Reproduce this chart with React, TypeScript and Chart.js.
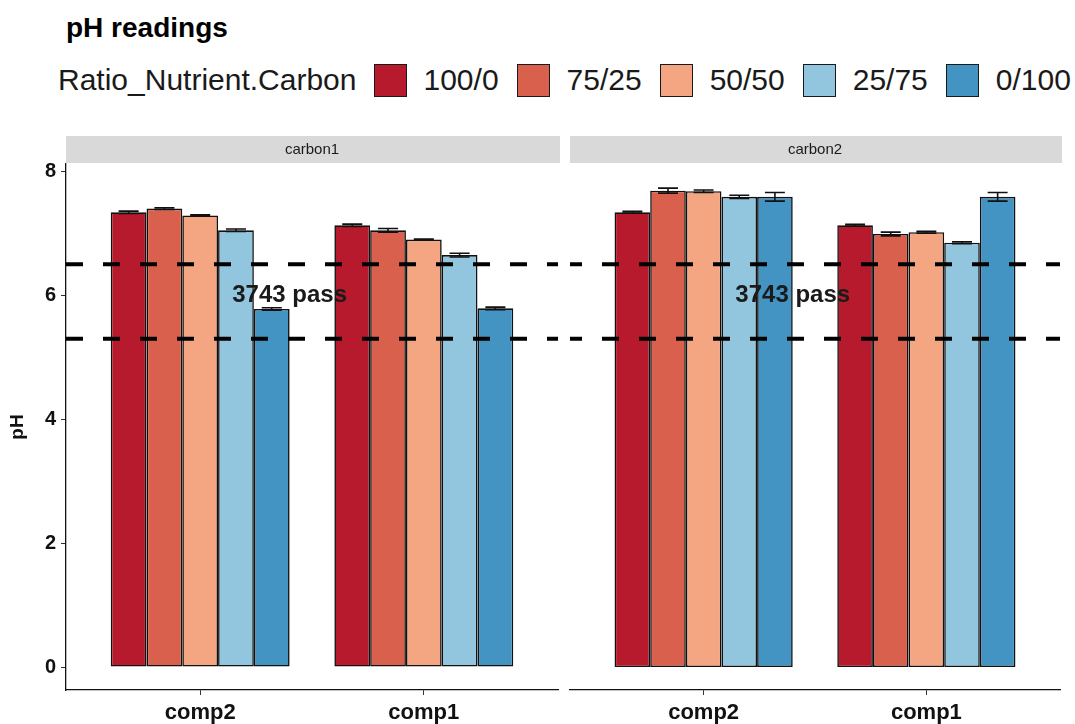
import React, { useEffect, useRef } from 'react';
import { Chart, registerables } from 'chart.js';

Chart.register(...registerables);

// ---------- data ----------
const chartTitle = 'pH readings';
const legendTitle = 'Ratio_Nutrient.Carbon';
const categories = ['comp2', 'comp1'];
const ratios = ['100/0', '75/25', '50/50', '25/75', '0/100'];
const ratioColors = ['#B71A2C', '#D9604C', '#F4A582', '#92C5DE', '#4393C3'];
const facets = ['carbon1', 'carbon2'];
const yTicks = [0, 2, 4, 6, 8];
const thresholds = [6.5, 5.3];
const annotationText = '3743 pass';
const annotationX = 1.4;
const annotationY = 6.0;

// carbon1 values per ratio: [comp2, comp1]
const carbon1_100_0 = [7.34, 7.13];
const carbon1_75_25 = [7.4, 7.05];
const carbon1_50_50 = [7.29, 6.9];
const carbon1_25_75 = [7.05, 6.65];
const carbon1_0_100 = [5.78, 5.79];

// carbon2 values per ratio: [comp2, comp1]
const carbon2_100_0 = [7.34, 7.13];
const carbon2_75_25 = [7.69, 6.99];
const carbon2_50_50 = [7.68, 7.02];
const carbon2_25_75 = [7.59, 6.85];
const carbon2_0_100 = [7.59, 7.59];

// standard errors per ratio: [comp2, comp1]
const carbon1Err = [
  [0.02, 0.02],
  [0.015, 0.03],
  [0.01, 0.01],
  [0.02, 0.03],
  [0.02, 0.02],
];
const carbon2Err = [
  [0.015, 0.015],
  [0.04, 0.03],
  [0.02, 0.015],
  [0.025, 0.015],
  [0.07, 0.07],
];

const carbon1Series = [carbon1_100_0, carbon1_75_25, carbon1_50_50, carbon1_25_75, carbon1_0_100];
const carbon2Series = [carbon2_100_0, carbon2_75_25, carbon2_50_50, carbon2_25_75, carbon2_0_100];

const FONT = '"Liberation Sans", Arial, Helvetica, sans-serif';

function buildConfig(
  facet: string,
  series: number[][],
  errors: number[][],
  showY: boolean,
  padding: any,
  dashOffset: number
): any {
  const panelPlugin = {
    id: 'panelDecor_' + facet,
    afterDatasetsDraw(chart: any) {
      const { ctx, chartArea } = chart;
      const xs = chart.scales.x;
      const ys = chart.scales.y;
      ctx.save();
      // error bars
      chart.data.datasets.forEach((ds: any, di: number) => {
        const meta = chart.getDatasetMeta(di);
        meta.data.forEach((el: any, j: number) => {
          const v = series[di][j];
          const e = errors[di][j];
          const yTop = ys.getPixelForValue(v + e);
          const yBot = ys.getPixelForValue(v - e);
          const half = el.width * 0.28;
          ctx.strokeStyle = '#111';
          ctx.lineWidth = 1.6;
          ctx.setLineDash([]);
          ctx.beginPath();
          ctx.moveTo(el.x, yTop);
          ctx.lineTo(el.x, yBot);
          ctx.moveTo(el.x - half, yTop);
          ctx.lineTo(el.x + half, yTop);
          ctx.moveTo(el.x - half, yBot);
          ctx.lineTo(el.x + half, yBot);
          ctx.stroke();
        });
      });
      // threshold lines
      ctx.strokeStyle = '#000';
      ctx.lineWidth = 4;
      ctx.setLineDash([17, 20]);
      ctx.lineDashOffset = dashOffset;
      thresholds.forEach((t) => {
        const y = ys.getPixelForValue(t);
        ctx.beginPath();
        ctx.moveTo(chartArea.left, y);
        ctx.lineTo(chartArea.right, y);
        ctx.stroke();
      });
      ctx.setLineDash([]);
      // annotation text
      ctx.fillStyle = '#1a1a1a';
      ctx.font = 'bold 24px ' + FONT;
      ctx.textAlign = 'center';
      ctx.textBaseline = 'middle';
      ctx.fillText(annotationText, xs.getPixelForValue(annotationX), ys.getPixelForValue(annotationY));
      ctx.restore();
    },
    afterDraw(chart: any) {
      const { ctx, chartArea } = chart;
      ctx.save();
      const top = chartArea.top - 28;
      ctx.fillStyle = '#D9D9D9';
      ctx.fillRect(chartArea.left, top, chartArea.right - chartArea.left + 2, 27);
      ctx.fillStyle = '#1a1a1a';
      ctx.font = '15px ' + FONT;
      ctx.textAlign = 'center';
      ctx.textBaseline = 'middle';
      ctx.fillText(facet, (chartArea.left + chartArea.right) / 2, top + 14);
      ctx.restore();
    },
  };

  return {
    type: 'bar',
    data: {
      datasets: ratios.map((r, i) => ({
        label: r,
        data: categories.map((c, j) => ({ x: j + 1, y: series[i][j] })),
        backgroundColor: ratioColors[i],
        borderColor: '#111',
        borderWidth: 1.6,
        borderSkipped: false,
        categoryPercentage: 0.8,
        barPercentage: 1,
      })),
    },
    options: {
      animation: false,
      responsive: false,
      maintainAspectRatio: false,
      layout: { padding },
      plugins: {
        legend: { display: false },
        tooltip: { enabled: false },
        title: { display: false },
      },
      scales: {
        x: {
          type: 'linear',
          min: 0.4,
          max: 2.6,
          offset: false,
          afterBuildTicks: (s: any) => {
            s.ticks = categories.map((c, j) => ({ value: j + 1 }));
          },
          afterFit: (s: any) => {
            s.height = 34;
          },
          ticks: {
            callback: (v: any) => categories[Math.round(v) - 1] ?? '',
            font: { family: FONT, size: 22, weight: 'bold' },
            color: '#111',
            padding: 5,
            autoSkip: false,
            maxRotation: 0,
          },
          grid: {
            display: true,
            offset: false,
            drawOnChartArea: false,
            drawTicks: true,
            tickLength: 5,
            color: '#333',
            lineWidth: 1,
          },
          border: { display: true, color: '#111', width: 1.3 },
        },
        y: {
          display: showY,
          min: -0.37,
          max: 8.12,
          afterBuildTicks: (s: any) => {
            s.ticks = yTicks.map((v) => ({ value: v }));
          },
          afterFit: (s: any) => {
            s.width = showY ? 66 : 0;
          },
          title: {
            display: true,
            text: 'pH',
            font: { family: FONT, size: 19, weight: 'bold' },
            color: '#111',
            padding: { top: 6, bottom: 0 },
          },
          ticks: {
            font: { family: FONT, size: 20, weight: 'bold' },
            color: '#111',
            padding: 5,
          },
          grid: {
            display: true,
            drawOnChartArea: false,
            drawTicks: true,
            tickLength: 5,
            color: '#333',
            lineWidth: 1,
          },
          border: { display: true, color: '#111', width: 1.3 },
        },
      },
    },
    plugins: [panelPlugin],
  };
}

function Panel(props: {
  facet: string;
  series: number[][];
  errors: number[][];
  showY: boolean;
  left: number;
  width: number;
  padding: any;
  dashOffset: number;
}) {
  const ref = useRef<HTMLCanvasElement | null>(null);
  useEffect(() => {
    if (!ref.current) return;
    const chart = new Chart(
      ref.current,
      buildConfig(props.facet, props.series, props.errors, props.showY, props.padding, props.dashOffset)
    );
    return () => chart.destroy();
  }, []);
  return (
    <canvas
      ref={ref}
      width={props.width}
      height={594}
      style={{ position: 'absolute', left: props.left, top: 130, width: props.width, height: 594 }}
    />
  );
}

export default function App() {
  return (
    <div
      style={{
        position: 'fixed',
        left: 0,
        top: 0,
        width: 1075,
        height: 724,
        background: '#fff',
        fontFamily: FONT,
        overflow: 'hidden',
      }}
    >
      <div
        style={{
          position: 'absolute',
          left: 66,
          top: 12,
          height: 32,
          lineHeight: '32px',
          fontSize: 28,
          fontWeight: 'bold',
          color: '#000',
          whiteSpace: 'nowrap',
        }}
      >
        {chartTitle}
      </div>
      <div
        style={{
          position: 'absolute',
          left: 58,
          top: 62,
          height: 36,
          display: 'flex',
          alignItems: 'center',
          fontSize: 30,
          color: '#1a1a1a',
          whiteSpace: 'nowrap',
        }}
      >
        <span style={{ marginRight: 17 }}>{legendTitle}</span>
        {ratios.map((r, i) => (
          <React.Fragment key={r}>
            <span
              style={{
                display: 'inline-block',
                width: 31,
                height: 31,
                background: ratioColors[i],
                border: '1.5px solid #1a1a1a',
                marginRight: 17,
              }}
            />
            <span style={{ marginRight: 18 }}>{r}</span>
          </React.Fragment>
        ))}
      </div>
      <Panel
        facet={facets[0]}
        series={carbon1Series}
        errors={carbon1Err}
        showY={true}
        left={0}
        width={562}
        padding={{ top: 34, right: 4, left: 0, bottom: 0 }}
        dashOffset={0}
      />
      <Panel
        facet={facets[1]}
        series={carbon2Series}
        errors={carbon2Err}
        showY={false}
        left={568}
        width={507}
        padding={{ top: 34, right: 15, left: 2, bottom: 0 }}
        dashOffset={5}
      />
    </div>
  );
}
